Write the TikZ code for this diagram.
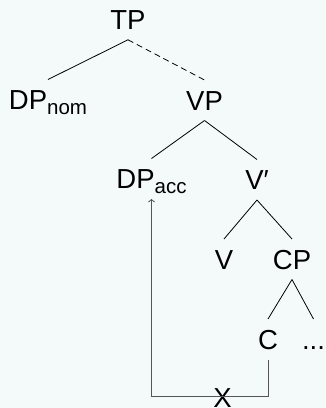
\documentclass[tikz,border=0pt]{standalone}
\usepackage{fontspec}
\setmainfont{Liberation Sans}
\usetikzlibrary{arrows.meta}
\definecolor{paper}{RGB}{244,250,250}
\definecolor{movegray}{RGB}{85,85,85}
\newcommand{\lab}[2]{#1\textsubscript{#2}}
\begin{document}
\begin{tikzpicture}[x=1pt,y=-1pt,
  cat/.style={font=\fontsize{27.5}{30}\selectfont, inner sep=0pt, outer ysep=10.5pt,
    text height=19.5pt, text depth=0pt, anchor=base},
  branch/.style={draw=black, line width=0.8pt},
  faint/.style={branch, dash pattern=on 6pt off 4pt},
  move/.style={draw=movegray, line width=0.85pt,
    -{Straight Barb[length=2.5pt,width=6pt]}}]
  \fill[paper] (0,0) rectangle (326,408);
  \useasboundingbox (0,0) rectangle (326,408);
  \renewcommand{\textsubscript}[1]{\raisebox{-5pt}{\fontsize{20.5}{22}\selectfont #1}}

  % tree nodes, placed by baseline
  \node[cat] (TP)    at (128,29.3)  {TP};
  \node[cat] (DPnom) at (48,109.5)  {\lab{DP}{nom}};
  \node[cat] (VP)    at (204.5,110) {VP};
  \node[cat] (DPacc) at (151.5,188.5) {\lab{DP}{acc}};
  \node[cat] (Vbar)  at (257,189.5) {V\char"2032};
  \node[cat] (V)     at (224,269)   {V};
  \node[cat] (CP)    at (292,269)   {CP};
  \node[cat] (C)     at (268,349)   {C};
  \node[cat] (rest)  at (313.5,349) {...};
  \node[cat] (X)     at (222.5,407) {X};

  % branches
  \draw[branch] (TP.south) -- (DPnom.north);
  \draw[faint]  (TP.south) -- (VP.north);
  \draw[branch] (VP.south) -- (DPacc.north);
  \draw[branch] (VP.south) -- (Vbar.north);
  \draw[branch] (Vbar.south) -- (V.north);
  \draw[branch] (Vbar.south) -- (CP.north);
  \draw[branch] (CP.south) -- (C.north);
  \draw[branch] (CP.south) -- (rest.north);

  % blocked movement path
  \coordinate (low) at (222.5,396.7);
  \draw[move] (C.south) |- (low) -| (DPacc.south);
\end{tikzpicture}
\end{document}
